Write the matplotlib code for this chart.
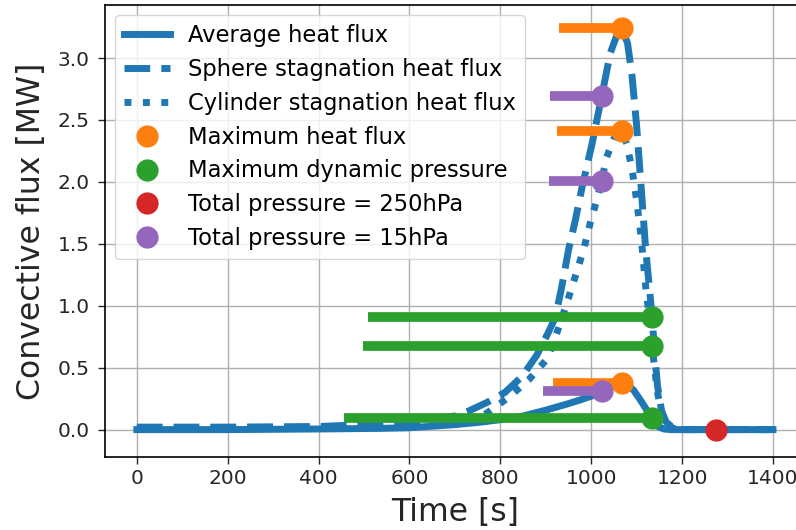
import matplotlib
matplotlib.use("Agg")
import matplotlib.pyplot as plt

# ---- data ----
time_avg = [0, 200, 400, 536, 600, 700, 756, 800, 850, 903, 950, 976, 1000, 1023, 1045, 1067,
            1080, 1093, 1108, 1122, 1134, 1144, 1160, 1174, 1200, 1300, 1400]
avg_flux = [0.0, 0.0, 0.005, 0.01, 0.015, 0.04, 0.06, 0.08, 0.11, 0.16, 0.21, 0.24, 0.27, 0.31, 0.35, 0.375,
            0.36, 0.32, 0.24, 0.16, 0.097, 0.03, 0.005, 0.0, 0.0, 0.0, 0.0]

time_sph = [0, 200, 400, 500, 600, 700, 730, 771, 810, 848, 880, 905, 921, 935, 950, 965, 980, 1002,
            1023, 1042, 1055, 1067, 1080, 1090, 1100, 1110, 1120, 1128, 1134, 1140, 1146, 1155, 1165,
            1180, 1200, 1300, 1400]
sphere_flux = [0.02, 0.02, 0.025, 0.04, 0.06, 0.11, 0.15, 0.22, 0.30, 0.43, 0.60, 0.78, 0.906, 1.15,
               1.45, 1.69, 1.96, 2.31, 2.69, 3.04, 3.17, 3.24, 3.12, 2.85, 2.45, 1.95, 1.45, 1.15,
               0.906, 0.6, 0.35, 0.15, 0.06, 0.015, 0.0, 0.0, 0.0]

time_cyl = [0, 200, 400, 500, 600, 700, 758, 818, 862, 905, 932, 955, 983, 998, 1012, 1023, 1034,
            1050, 1067, 1078, 1090, 1100, 1110, 1120, 1128, 1134, 1140, 1146, 1155, 1165, 1180, 1200,
            1300, 1400]
cyl_flux = [0.015, 0.015, 0.02, 0.03, 0.045, 0.07, 0.10, 0.26, 0.40, 0.58, 0.86, 1.12, 1.45, 1.67,
            1.85, 2.01, 2.2, 2.35, 2.41, 2.31, 2.1, 1.85, 1.55, 1.15, 0.9, 0.677, 0.48, 0.3, 0.13,
            0.05, 0.01, 0.0, 0.0, 0.0]

# markers: (time, values) and left start of their horizontal bars
maxflux_t = 1067
maxflux_v = [3.24, 2.41, 0.375]
maxflux_start = [928, 924, 916]

maxq_t = 1134
maxq_v = [0.906, 0.677, 0.097]
maxq_start = [508, 497, 456]

p250_t = 1275
p250_v = [0.0]

p15_t = 1023
p15_v = [2.69, 2.01, 0.31]
p15_start = [910, 906, 894]

blue, orange, green, red, purple = "#1f77b4", "#ff7f0e", "#2ca02c", "#d62728", "#9467bd"

fig = plt.figure(figsize=(7.96, 5.30), dpi=100)
ax = fig.add_axes([0.132, 0.138, 0.879, 0.853])

lw = 5
ax.plot(time_avg, avg_flux, color=blue, lw=lw, label="Average heat flux", zorder=2)
ax.plot(time_sph, sphere_flux, color=blue, lw=lw, ls="--", label="Sphere stagnation heat flux", zorder=2)
ax.plot(time_cyl, cyl_flux, color=blue, lw=lw, ls=":", label="Cylinder stagnation heat flux", zorder=2)

bar_lw = 7
for v, s in zip(maxflux_v, maxflux_start):
    ax.plot([s, maxflux_t], [v, v], color=orange, lw=bar_lw, solid_capstyle="butt", zorder=3)
for v, s in zip(maxq_v, maxq_start):
    ax.plot([s, maxq_t], [v, v], color=green, lw=bar_lw, solid_capstyle="butt", zorder=3)
for v, s in zip(p15_v, p15_start):
    ax.plot([s, p15_t], [v, v], color=purple, lw=bar_lw, solid_capstyle="butt", zorder=3)

ms = 15
ax.plot([maxflux_t] * len(maxflux_v), maxflux_v, "o", color=orange, ms=ms, label="Maximum heat flux", zorder=4)
ax.plot([maxq_t] * len(maxq_v), maxq_v, "o", color=green, ms=ms, label="Maximum dynamic pressure", zorder=4)
ax.plot([p250_t] * len(p250_v), p250_v, "o", color=red, ms=ms, label="Total pressure = 250hPa", zorder=4)
ax.plot([p15_t] * len(p15_v), p15_v, "o", color=purple, ms=ms, label="Total pressure = 15hPa", zorder=4)

ax.set_xlim(-70, 1470)
ax.set_ylim(-0.22, 3.43)
ax.set_xticks(range(0, 1401, 200))
ax.set_yticks([0.0, 0.5, 1.0, 1.5, 2.0, 2.5, 3.0])
ax.grid(True, color="#b0b0b0", lw=1)
ax.set_axisbelow(True)
ax.tick_params(labelsize=14.5, length=5, width=1, colors="#262626", labelcolor="#262626")
ax.tick_params(axis="y", pad=6)
for sp in ax.spines.values():
    sp.set_color("black")
    sp.set_linewidth(1.2)

ax.set_xlabel("Time [s]", fontsize=22.7, color="#262626", labelpad=7)
ax.set_ylabel("Convective flux [MW]", fontsize=22.7, color="#262626", labelpad=8)

leg = ax.legend(loc="upper left", fontsize=16.3, framealpha=0.8,
                borderaxespad=0.45, handlelength=2.0, labelspacing=0.48)

fig.savefig("out.png", dpi=100)
